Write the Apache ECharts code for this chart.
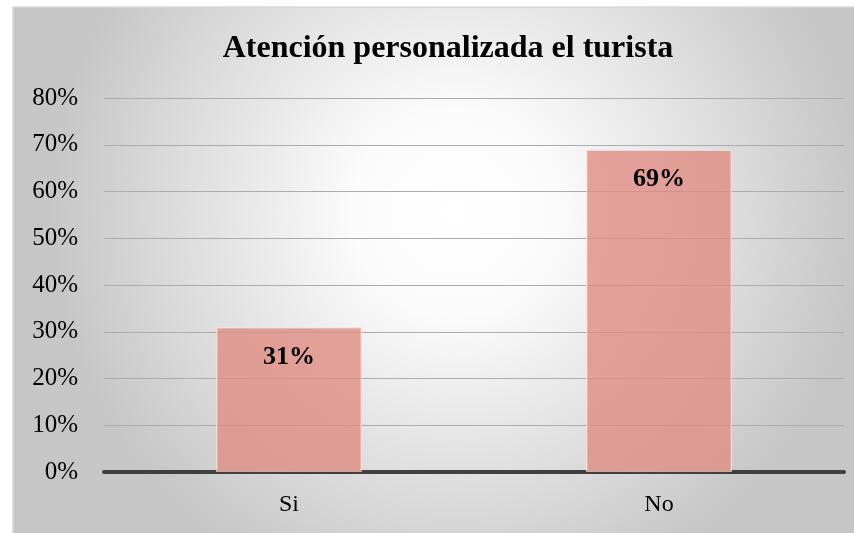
<!DOCTYPE html>
<html><head><meta charset="utf-8">
<script src="https://cdn.jsdelivr.net/npm/echarts@6/dist/echarts.min.js"></script>
<style>html,body{margin:0;padding:0;background:#fff}#c{width:854px;height:533px}</style>
</head><body><div id="c"></div>
<script>
const categories = ['Si', 'No'];
const values = [31, 69];
const yTicks = [0, 10, 20, 30, 40, 50, 60, 70, 80];

const chart = echarts.init(document.getElementById('c'));
const serif = '"Liberation Serif", "Times New Roman", serif';
chart.setOption({
  animation: false,
  graphic: [{
    type: 'rect', z: -10, silent: true,
    shape: { x: 13, y: 7, width: 850, height: 540 },
    style: {
      fill: { type: 'radial', x: 0.52, y: 0.38, r: 0.75,
        colorStops: [{ offset: 0, color: '#ffffff' }, { offset: 0.25, color: '#fbfbfb' }, { offset: 1, color: '#c6c6c6' }] },
      stroke: '#d8d8d8', lineWidth: 1.5
    }
  }],
  title: {
    text: 'Atención personalizada el turista',
    left: 443, top: 28, textAlign: 'center',
    textStyle: { fontFamily: serif, fontWeight: 'bold', fontSize: 32, color: '#000' }
  },
  grid: { left: 104, right: 10, top: 98, bottom: 61, containLabel: false },
  xAxis: {
    type: 'category', data: categories,
    axisLine: { lineStyle: { color: '#404040', width: 4 } },
    axisTick: { show: false },
    axisLabel: { fontFamily: serif, fontSize: 24, color: '#000', margin: 21 }
  },
  yAxis: {
    type: 'value', min: yTicks[0], max: yTicks[yTicks.length - 1], interval: 10,
    axisLine: { show: false }, axisTick: { show: false },
    axisLabel: { fontFamily: serif, fontSize: 25, color: '#000', margin: 26, formatter: v => v + '%' },
    splitLine: { lineStyle: { color: '#acacac', width: 1 } }
  },
  series: [{
    type: 'bar', data: values, barWidth: 146,
    itemStyle: { color: 'rgba(222,140,130,0.8)', borderColor: 'rgba(255,235,232,0.6)', borderWidth: 1.5 },
    label: {
      show: true, position: 'insideTop', distance: 17,
      formatter: p => p.value + '%',
      fontFamily: serif, fontWeight: 'bold', fontSize: 26, color: '#000'
    }
  }]
});
</script></body></html>
